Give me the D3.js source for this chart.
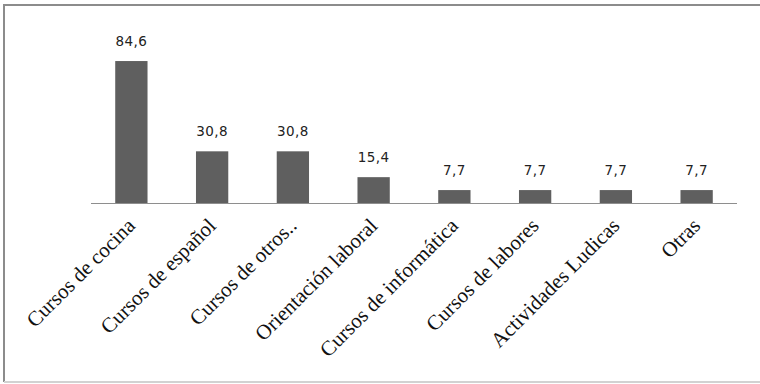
<!DOCTYPE html>
<html><head><meta charset="utf-8">
<script src="https://cdn.jsdelivr.net/npm/d3@7/dist/d3.min.js"></script>
<style>body{margin:0;background:#fff}</style>
</head><body>
<script>
const categories = ["Cursos de cocina","Cursos de español","Cursos de otros..","Orientación laboral","Cursos de informática","Cursos de labores","Actividades Ludicas","Otras"];
const values = [84.6, 30.8, 30.8, 15.4, 7.7, 7.7, 7.7, 7.7];
const valueLabels = ["84,6","30,8","30,8","15,4","7,7","7,7","7,7","7,7"];

const W = 760, H = 384;
const svg = d3.select("body").append("svg").attr("width", W).attr("height", H);

// frame
svg.append("line").attr("x1",4).attr("x2",760).attr("y1",5).attr("y2",5).attr("stroke","#8c8c8c").attr("stroke-width",2);
svg.append("line").attr("x1",4).attr("x2",4).attr("y1",4).attr("y2",382).attr("stroke","#8c8c8c").attr("stroke-width",2);
svg.append("line").attr("x1",4).attr("x2",760).attr("y1",382).attr("y2",382).attr("stroke","#d2d2d2").attr("stroke-width",2);

const x = d3.scaleBand().domain(categories).range([91, 737]).paddingInner(0.6).paddingOuter(0.3);
const y = d3.scaleLinear().domain([0, 100]).range([203, 35.2]);

svg.selectAll("rect.bar").data(values).enter().append("rect")
  .attr("class","bar")
  .attr("x",(d,i)=>x(categories[i]))
  .attr("width",x.bandwidth())
  .attr("y",d=>y(d))
  .attr("height",d=>y(0)-y(d))
  .attr("fill","#5f5f5f");

svg.append("line").attr("x1",91).attr("x2",737).attr("y1",y(0)+0.5).attr("y2",y(0)+0.5)
  .attr("stroke","#8e8e8e").attr("stroke-width",1);

svg.selectAll("text.val").data(values).enter().append("text")
  .attr("class","val")
  .attr("x",(d,i)=>x(categories[i])+x.bandwidth()/2)
  .attr("y",d=>y(d)-15)
  .attr("text-anchor","middle")
  .attr("font-family","DejaVu Sans, Verdana, sans-serif")
  .attr("font-size",13.5)
  .attr("letter-spacing",0.4)
  .attr("fill","#222")
  .text((d,i)=>valueLabels[i]);

svg.selectAll("text.cat").data(categories).enter().append("text")
  .attr("class","cat")
  .attr("transform",d=>`translate(${x(d)+x.bandwidth()/2+5},${y(0)+24}) rotate(-45)`)
  .attr("text-anchor","end")
  .attr("font-family","Liberation Serif, Times New Roman, serif")
  .attr("font-size",21)
  .attr("fill","#111")
  .text(d=>d);
</script>
</body></html>
